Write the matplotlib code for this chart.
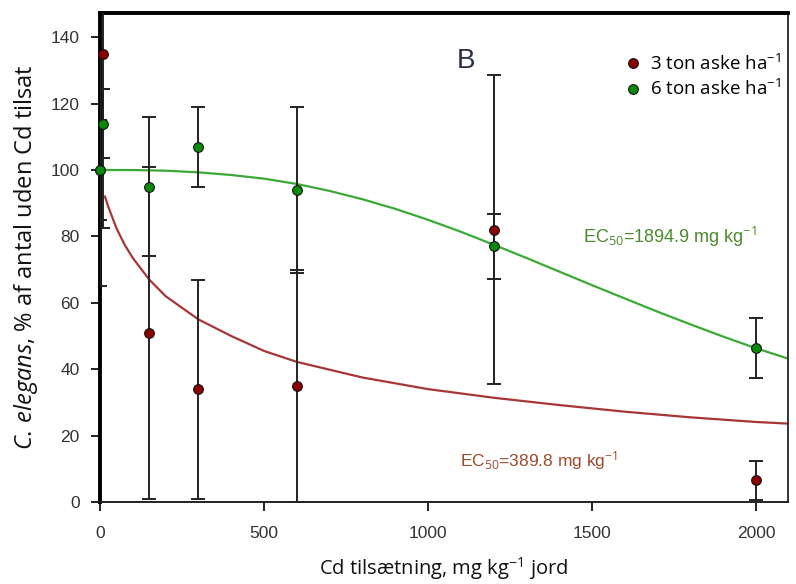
import matplotlib
matplotlib.use("Agg")
import matplotlib.pyplot as plt

plt.rcParams['mathtext.fontset'] = 'custom'
plt.rcParams['mathtext.rm'] = 'Open Sans'
plt.rcParams['mathtext.it'] = 'Open Sans:italic'
plt.rcParams['mathtext.default'] = 'rm'

# ---- data ----
dose_3t = [0, 8, 150, 300, 600, 1200, 2000]
resp_3t = [100, 135, 51, 34, 35, 82, 6.5]
err_3t = [35, 52.5, 50, 33, 35, 46.5, 6]

dose_6t = [0, 8, 150, 300, 600, 1200, 2000]
resp_6t = [100, 114, 95, 107, 94, 77, 46.5]
err_6t = [15, 10.5, 21, 12, 25, 9.7, 9]

# fitted curves
fit_x_3t = [15, 25, 50, 75, 100, 150, 200, 300, 400, 500, 600, 800, 1000,
            1200, 1400, 1600, 1800, 2000, 2100]
fit_y_3t = [92, 89, 82.5, 77.5, 73.5, 67, 62, 55, 50, 45.5, 42.2, 37.5, 34,
            31.4, 29.2, 27.2, 25.5, 24.1, 23.6]
fit_x_6t = [0, 100, 200, 300, 400, 500, 600, 700, 800, 900, 1000, 1100, 1200,
            1300, 1400, 1500, 1600, 1700, 1800, 1900, 2000, 2100]
fit_y_6t = [100, 100, 99.8, 99.3, 98.5, 97.4, 95.8, 93.7, 91.2, 88.3, 85.0,
            81.4, 77.5, 73.5, 69.4, 65.3, 61.3, 57.3, 53.5, 49.8, 46.3, 43.1]

labels = ["3 ton aske ha$^{-1}$", "6 ton aske ha$^{-1}$"]
x_ticks = [0, 500, 1000, 1500, 2000]
y_ticks = [0, 20, 40, 60, 80, 100, 120, 140]

red_line = "#a83636"
green_line = "#3aaa35"
red_mk = "#8b0000"
green_mk = "#0a8a0a"

fig = plt.figure(figsize=(7.96, 5.84), dpi=100)
ax = fig.add_axes([100/796, 1-502/584, 688/796, 489/584])

ax.plot(fit_x_6t, fit_y_6t, color=green_line, lw=1.6, zorder=2)
ax.plot(fit_x_3t, fit_y_3t, color=red_line, lw=1.6, zorder=2)

for d, r, e in [(dose_3t, resp_3t, err_3t), (dose_6t, resp_6t, err_6t)]:
    ax.errorbar(d, r, yerr=e, fmt='none', ecolor='#222222', elinewidth=1.4,
                capsize=5, capthick=1.4, zorder=3)

h1, = ax.plot(dose_3t, resp_3t, 'o', ms=7, mfc=red_mk, mec='#111111', mew=0.8,
              ls='none', zorder=4, clip_on=False)
h2, = ax.plot(dose_6t, resp_6t, 'o', ms=7, mfc=green_mk, mec='#111111', mew=0.8,
              ls='none', zorder=4, clip_on=False)

ax.set_xlim(0, 2097)
ax.set_ylim(0, 147.3)
ax.set_xticks(x_ticks)
ax.set_yticks(y_ticks)
ax.tick_params(direction='out', length=6.5, width=1.4, color='#222222',
               labelsize=12.5, labelcolor='#333333')
ax.tick_params(axis='y', pad=8)
ax.tick_params(axis='x', pad=11)
for lab in ax.get_xticklabels() + ax.get_yticklabels():
    lab.set_family('Liberation Sans')

ax.spines['left'].set_linewidth(2.8)
ax.spines['left'].set_color('black')
ax.spines['top'].set_linewidth(2.8)
ax.spines['top'].set_color('black')
ax.spines['bottom'].set_linewidth(1.4)
ax.spines['bottom'].set_color('#222222')
ax.spines['right'].set_linewidth(1.4)
ax.spines['right'].set_color('#333333')

ax.set_ylabel(r"$\mathit{C.\,elegans}$, % af antal uden Cd tilsat",
              family='Open Sans', fontsize=17, color='#111111', labelpad=8)
ax.set_xlabel("Cd tilsætning, mg kg$^{-1}$ jord", family='Open Sans',
              fontsize=14.5, color='#111111', labelpad=10)

ax.text(0.532, 0.902, "B", transform=ax.transAxes, fontsize=20,
        family='Liberation Sans', color='#2b2f45', ha='center', va='center')
ax.text(1472, 79.8, "EC$_{50}$=1894.9 mg kg$^{-1}$", fontsize=13,
        family='Liberation Sans', color='#4c8a2c', ha='left', va='center')
ax.text(1097, 12.5, "EC$_{50}$=389.8 mg kg$^{-1}$", fontsize=12.5,
        family='Liberation Sans', color='#9c4a2e', ha='left', va='center')

leg = ax.legend([h1, h2], labels, loc='upper left',
                bbox_to_anchor=(622/796, 1-48/584), bbox_transform=fig.transFigure,
                prop={'family': 'Open Sans', 'size': 13.5}, frameon=True,
                facecolor='white', edgecolor='none', framealpha=1,
                handlelength=0.6, handletextpad=0.6, borderpad=0.3,
                labelspacing=0.3, borderaxespad=0)
leg.set_zorder(6)

fig.savefig("out.png", dpi=100)
